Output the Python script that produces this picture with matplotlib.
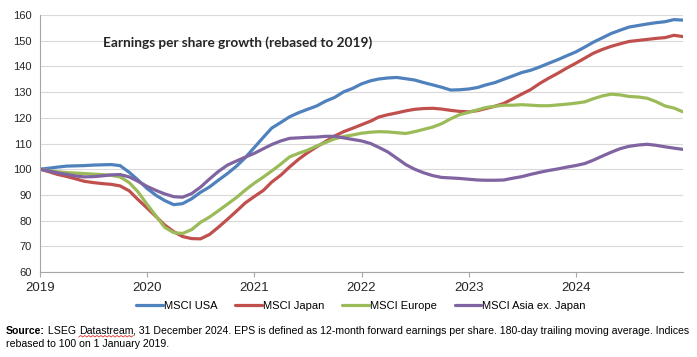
import numpy as np
import pandas as pd
import matplotlib
matplotlib.use('Agg')
import matplotlib.pyplot as plt
import matplotlib.dates as mdates

# monthly points, Jan 2019 .. Jan 2025
months = pd.date_range('2019-01-01', '2025-01-01', freq='MS')

msci_usa = [100, 100.4, 100.8, 101.2, 101.3, 101.4, 101.6, 101.7, 101.8, 101.4,
            98.8, 95.8, 92.5, 89.8, 87.8, 86.2, 86.6, 88.5, 91.0, 93.1,
            95.8, 98.3, 101.2, 104.5, 108.5, 112.5, 116.0, 118.2, 120.4, 122.0,
            123.3, 124.6, 126.5, 127.9, 130.1, 131.4, 133.2, 134.4, 135.1, 135.5,
            135.7, 135.2, 134.7, 133.7, 132.8, 131.9, 130.8, 130.9, 131.2, 131.8,
            132.8, 133.7, 135.0, 136.3, 137.6, 138.5, 139.8, 141.2, 142.6, 144.1,
            145.6, 147.5, 149.4, 151.1, 152.8, 154.1, 155.3, 155.9, 156.5, 157.0,
            157.4, 158.2, 158.0]

msci_japan = [100, 99.0, 98.0, 97.2, 96.3, 95.3, 94.8, 94.4, 94.1, 93.5,
              91.6, 88.2, 84.9, 81.5, 78.3, 75.7, 73.8, 73.0, 72.9, 74.6,
              77.5, 80.5, 83.7, 86.9, 89.4, 91.8, 95.0, 97.7, 100.9, 103.9,
              106.4, 108.7, 110.8, 112.9, 114.6, 115.9, 117.3, 118.7, 120.3, 121.2,
              121.9, 122.7, 123.3, 123.6, 123.7, 123.4, 122.9, 122.5, 122.3, 122.8,
              123.6, 124.5, 125.6, 127.4, 129.2, 131.0, 133.4, 135.4, 137.3, 139.3,
              141.2, 143.2, 145.1, 146.6, 147.8, 148.8, 149.7, 150.1, 150.5, 150.9,
              151.2, 152.1, 151.6]

msci_europe = [100, 99.4, 99.0, 98.7, 98.5, 98.3, 98.1, 97.9, 97.6, 97.0,
               94.8, 91.2, 86.3, 81.7, 77.4, 75.3, 75.0, 76.5, 79.3, 81.4,
               83.9, 86.4, 89.0, 91.9, 94.6, 97.0, 99.3, 102.0, 104.8, 106.2,
               107.4, 109.0, 110.4, 111.8, 112.7, 113.3, 114.0, 114.4, 114.6, 114.5,
               114.2, 113.9, 114.6, 115.5, 116.4, 117.7, 119.6, 121.2, 122.1, 123.1,
               124.0, 124.5, 124.9, 124.9, 125.1, 124.9, 124.7, 124.7, 125.0, 125.3,
               125.7, 126.2, 127.4, 128.5, 129.2, 128.9, 128.3, 128.1, 127.6, 126.3,
               124.6, 123.8, 122.3]

msci_asia_ex_japan = [100, 99.3, 98.6, 98.0, 97.4, 97.0, 97.1, 97.4, 97.8, 97.9,
                      97.0, 95.3, 93.3, 91.7, 90.4, 89.3, 89.1, 90.5, 93.0, 96.2,
                      99.2, 101.6, 103.2, 104.7, 106.2, 108.0, 109.6, 111.0, 112.0, 112.2,
                      112.4, 112.5, 112.8, 112.8, 112.2, 111.6, 111.0, 110.0, 108.5, 106.7,
                      104.3, 101.8, 100.0, 98.6, 97.5, 96.8, 96.6, 96.4, 96.1, 95.8,
                      95.7, 95.7, 95.8, 96.5, 97.1, 98.0, 98.8, 99.5, 100.1, 100.8,
                      101.4, 102.2, 103.5, 105.1, 106.6, 108.0, 108.9, 109.4, 109.7, 109.3,
                      108.7, 108.2, 107.7]

series = ['MSCI USA', 'MSCI Japan', 'MSCI Europe', 'MSCI Asia ex. Japan']
colors = ['#4F81BD', '#C0504D', '#9BBB59', '#8064A2']
years = [2019, 2020, 2021, 2022, 2023, 2024]

plt.rcParams['font.family'] = ['Liberation Sans', 'DejaVu Sans']

W, H = 697, 357
fig = plt.figure(figsize=(W / 100, H / 100), dpi=100)
ax = fig.add_axes([40 / W, 1 - 272 / H, (683 - 40) / W, (272 - 15) / H])

for name, vals, c in zip(series, [msci_usa, msci_japan, msci_europe, msci_asia_ex_japan], colors):
    ax.plot(months, vals, color=c, lw=2.3, label=name, solid_capstyle='round')

ax.set_ylim(60, 160)
ax.set_yticks(range(60, 161, 10))
ax.set_xlim(pd.Timestamp('2019-01-01'), pd.Timestamp('2025-01-01'))
ax.set_xticks([pd.Timestamp(f'{y}-01-01') for y in years])
ax.xaxis.set_major_formatter(mdates.DateFormatter('%Y'))

ax.yaxis.grid(True, color='#D9D9D9', lw=0.8)
ax.set_axisbelow(True)
for s in ['top', 'right']:
    ax.spines[s].set_visible(False)
for s in ['left', 'bottom']:
    ax.spines[s].set_color('#A6A6A6')
    ax.spines[s].set_linewidth(0.8)
ax.tick_params(axis='y', length=0, pad=6, labelsize=8, labelcolor='#262626')
ax.tick_params(axis='x', length=3.5, width=0.8, color='#A6A6A6', pad=4,
               labelsize=9.5, labelcolor='#262626')

fig.text(103 / W, 1 - 43 / H, 'Earnings per share growth (rebased to 2019)',
         family=['Lato', 'DejaVu Sans'], fontweight='bold', fontsize=9.8,
         color='#262626', va='center', ha='left')

fig.legend(loc='center', bbox_to_anchor=(361 / W, 1 - 306 / H), ncol=4,
           frameon=False, fontsize=8, handlelength=2.4, handletextpad=0.1,
           columnspacing=1.6, borderaxespad=0)

# footnote, written in pieces so that the bold word and the underline sit right
fig.canvas.draw()
r = fig.canvas.get_renderer()
fs = 7.6
y1 = 1 - 331 / H
y2 = 1 - 344 / H
x = 6 / W
pieces = [('Source:', 'bold'), (' LSEG ', 'normal'), ('Datastream', 'normal'),
          (', 31 December 2024. EPS is defined as 12-month forward earnings per share. '
           '180-day trailing moving average. Indices', 'normal')]
for txt, wt in pieces:
    t = fig.text(x, y1, txt, fontsize=fs, fontweight=wt, color='black', va='center', ha='left')
    bb = t.get_window_extent(r)
    if txt == 'Datastream':
        zx = np.linspace(bb.x0, bb.x1, int((bb.x1 - bb.x0) / 2) + 1)
        zy = bb.y0 - 1 + np.where(np.arange(len(zx)) % 2 == 0, 0, 1.5)
        fig.add_artist(plt.Line2D(zx / W, zy / H, color='#E03030', lw=0.6))
    x = bb.x1 / W
fig.text(6 / W, y2, 'rebased to 100 on 1 January 2019.', fontsize=fs, color='black',
         va='center', ha='left')

fig.savefig('out.png', dpi=100)
